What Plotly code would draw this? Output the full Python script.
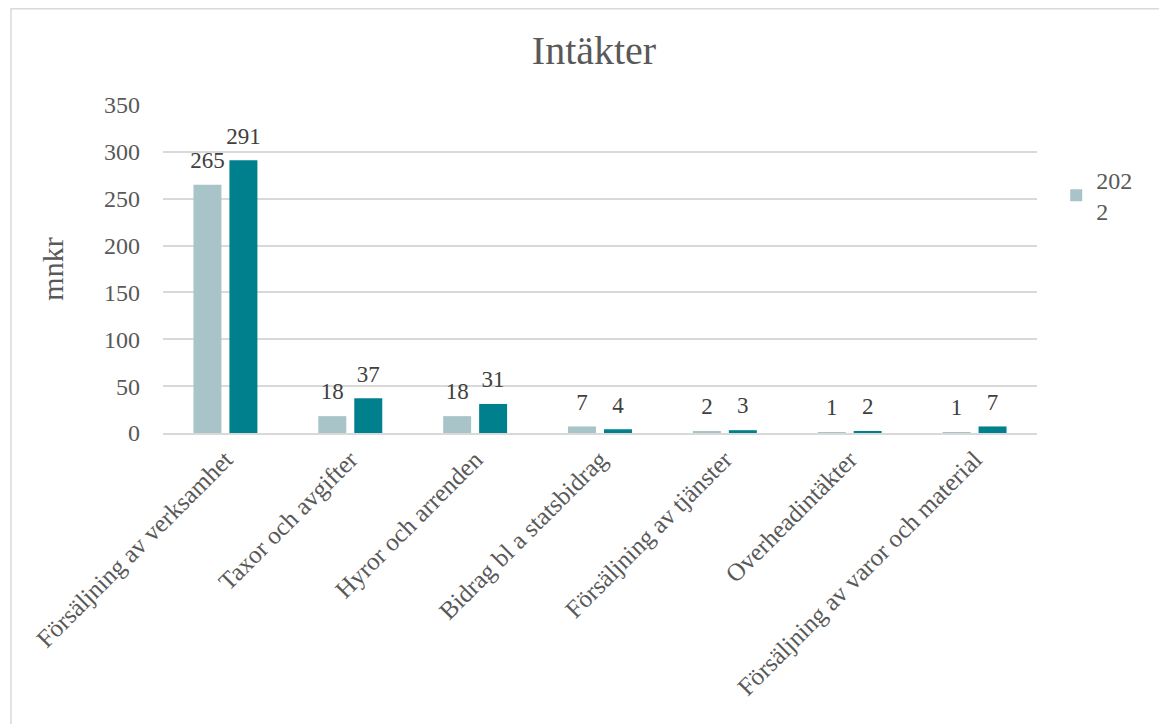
import plotly.graph_objects as go

categories = [
    "Försäljning av verksamhet",
    "Taxor och avgifter",
    "Hyror och arrenden",
    "Bidrag bl a statsbidrag",
    "Försäljning av tjänster",
    "Overheadintäkter",
    "Försäljning av varor och material",
]
values_2022 = [265, 18, 18, 7, 2, 1, 1]
values_2023 = [291, 37, 31, 4, 3, 2, 7]
y_ticks = [0, 50, 100, 150, 200, 250, 300, 350]

FONT = "Liberation Serif"
GREY = "#595959"
LABEL = "#404040"
LIGHT = "#A9C4C9"
TEAL = "#00808C"
GRID = "#D9D9D9"

W, H = 1167, 724
L, R, T, B = 155, 138, 97, 299
pw, ph = W - L - R, H - T - B
GAP = 0.424

fig = go.Figure()
series = [("202<br>2", values_2022, LIGHT, True, "a"),
          ("2023", values_2023, TEAL, False, "b")]
for name, vals, color, show, grp in series:
    fig.add_trace(go.Bar(
        x=categories, y=vals, name=name, showlegend=show,
        offsetgroup=grp, alignmentgroup="all",
        marker=dict(color=color, line=dict(width=0)),
    ))
for name, vals, color, show, grp in series:
    # value labels, placed above each bar of the same group
    fig.add_trace(go.Scatter(
        x=categories, y=vals, mode="markers+text", text=[str(v) for v in vals],
        textposition="top center", offsetgroup=grp, alignmentgroup="all",
        marker=dict(size=16, opacity=0), cliponaxis=False,
        showlegend=False, hoverinfo="skip",
        textfont=dict(family=FONT, size=23, color=LABEL),
    ))

fig.update_layout(
    width=W, height=H,
    margin=dict(l=L, r=R, t=T, b=B, autoexpand=False),
    paper_bgcolor="white", plot_bgcolor="white",
    font=dict(family=FONT, size=24, color=GREY),
    barmode="group", bargap=GAP, bargroupgap=0.222,
    scattermode="group", scattergap=GAP,
    title=dict(text="Intäkter", x=(586 - L) / pw, xref="paper", xanchor="center",
               y=1 - 42 / H, yanchor="middle",
               font=dict(family=FONT, size=40, color=GREY)),
    legend=dict(x=1.022, y=0.84, xanchor="left", yanchor="top",
                font=dict(family=FONT, size=24, color=GREY),
                bgcolor="rgba(0,0,0,0)", itemwidth=30, tracegroupgap=0),
    xaxis=dict(tickangle=-45, showline=True, linecolor=GRID, linewidth=2,
               ticks="", showgrid=False, automargin=False,
               tickfont=dict(family=FONT, size=25, color=GREY)),
    yaxis=dict(range=[0, 350], tickvals=y_ticks, showgrid=True, gridcolor=GRID,
               gridwidth=1.5, zeroline=False, showline=False, automargin=False,
               ticklabelstandoff=22,
               tickfont=dict(family=FONT, size=24, color=GREY),
               title=dict(text="mnkr", standoff=31,
                          font=dict(family=FONT, size=30, color=GREY))),
    shapes=[dict(type="rect", xref="paper", yref="paper",
                 x0=(3 - L) / pw, x1=(W + 20 - L) / pw,
                 y0=(T + ph - (H + 20)) / ph, y1=(T + ph - 0.75) / ph,
                 line=dict(color=GRID, width=1.5), fillcolor="rgba(0,0,0,0)",
                 layer="below")],
)

fig.write_html("out.html")
